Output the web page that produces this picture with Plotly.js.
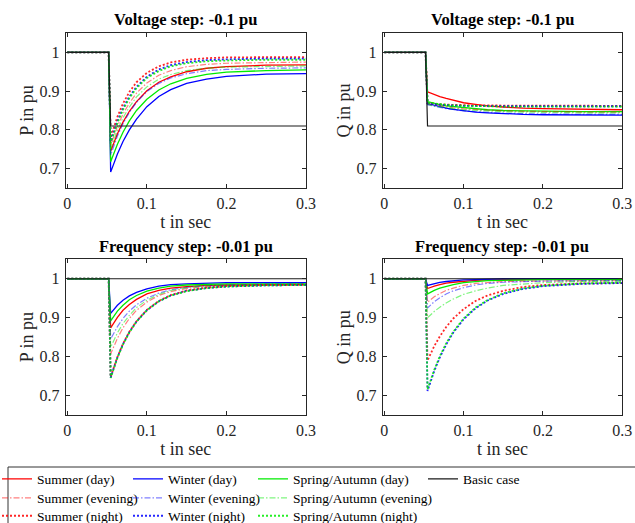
<!DOCTYPE html>
<html><head><meta charset="utf-8">
<script src="https://cdn.plot.ly/plotly-3.0.1.min.js"></script>
<style>html,body{margin:0;padding:0;background:#fff;} #chart{width:635px;height:523px;}</style>
</head><body><div id="chart"></div>
<script>
// time axis (s)
const t = [0, 0.052, 0.0545, 0.058, 0.063, 0.07, 0.078, 0.087, 0.1, 0.115, 0.13, 0.15, 0.175, 0.2, 0.25, 0.3];

// Voltage step, P
const vpSumDay = [1,1,.745,.765,.790,.820,.848,.873,.901,.923,.937,.950,.959,.963,.967,.968];
const vpWinDay = [1,1,.691,.711,.738,.770,.800,.828,.860,.886,.904,.920,.931,.938,.944,.945];
const vpSprDay = [1,1,.718,.738,.763,.794,.823,.850,.879,.903,.919,.933,.943,.949,.953,.955];
const vpSumEve = [1,1,.760,.782,.809,.841,.869,.895,.921,.941,.953,.963,.969,.972,.974,.975];
const vpWinEve = [1,1,.735,.756,.784,.816,.845,.871,.899,.920,.934,.945,.953,.956,.959,.960];
const vpSprEve = [1,1,.750,.772,.799,.831,.859,.885,.911,.931,.943,.953,.959,.962,.964,.965];
const vpSumNgt = [1,1,.780,.805,.834,.868,.898,.923,.947,.964,.974,.981,.985,.987,.988,.988];
const vpWinNgt = [1,1,.770,.794,.823,.856,.886,.911,.937,.956,.967,.975,.980,.982,.984,.984];
const vpSprNgt = [1,1,.765,.789,.818,.852,.882,.908,.934,.952,.964,.972,.977,.979,.981,.981];
const vpBasic  = [1,1,.81,.81,.81,.81,.81,.81,.81,.81,.81,.81,.81,.81,.81,.81];

// Voltage step, Q
const vqSumDay = [1,1,.898,.895,.891,.886,.881,.876,.870,.866,.862,.859,.856,.855,.853,.852];
const vqWinDay = [1,1,.868,.866,.863,.859,.856,.853,.849,.846,.844,.842,.840,.839,.838,.838];
const vqSprDay = [1,1,.873,.871,.869,.865,.862,.860,.857,.854,.852,.850,.849,.848,.847,.847];
const vqSumEve = [1,1,.868,.866,.864,.862,.859,.857,.854,.852,.850,.849,.848,.847,.846,.846];
const vqWinEve = [1,1,.865,.863,.861,.858,.855,.852,.849,.847,.845,.843,.842,.841,.840,.840];
const vqSprEve = [1,1,.866,.864,.862,.860,.857,.855,.852,.850,.848,.847,.846,.845,.844,.844];
const vqSumNgt = [1,1,.869,.868,.867,.866,.865,.864,.864,.863,.863,.862,.862,.862,.862,.862];
const vqWinNgt = [1,1,.868,.867,.866,.865,.864,.863,.862,.862,.861,.861,.861,.861,.861,.861];
const vqSprNgt = [1,1,.870,.869,.868,.866,.865,.863,.862,.861,.861,.860,.860,.860,.860,.860];
const vqBasic  = [1,1,.81,.81,.81,.81,.81,.81,.81,.81,.81,.81,.81,.81,.81,.81];

// Frequency step, P
const fpSumDay = [1,1,.874,.886,.901,.919,.934,.947,.961,.970,.976,.980,.983,.984,.985,.985];
const fpWinDay = [1,1,.911,.920,.932,.945,.956,.965,.974,.981,.985,.987,.989,.990,.990,.990];
const fpSprDay = [1,1,.892,.903,.917,.932,.946,.957,.968,.976,.981,.984,.986,.987,.987,.987];
const fpSumEve = [1,1,.807,.825,.847,.874,.898,.919,.940,.957,.967,.975,.980,.983,.984,.985];
const fpWinEve = [1,1,.845,.859,.877,.898,.917,.933,.950,.963,.972,.978,.982,.984,.986,.986];
const fpSprEve = [1,1,.824,.840,.861,.885,.906,.926,.945,.960,.970,.977,.982,.984,.985,.986];
const fpSumNgt = [1,1,.748,.771,.799,.833,.864,.891,.920,.943,.958,.970,.977,.981,.984,.985];
const fpWinNgt = [1,1,.746,.769,.798,.832,.863,.890,.919,.942,.957,.969,.976,.980,.983,.984];
const fpSprNgt = [1,1,.745,.768,.797,.831,.862,.890,.919,.942,.957,.968,.976,.980,.983,.984];
const fpBasic  = [1,1,1,1,1,1,1,1,1,1,1,1,1,1,1,1];

// Frequency step, Q
const fqSumDay = [1,1,.975,.978,.981,.985,.989,.991,.994,.996,.997,.998,.999,.999,.999,.999];
const fqWinDay = [1,1,.983,.985,.988,.991,.993,.995,.997,.998,.999,1,1,1,1,1];
const fqSprDay = [1,1,.961,.965,.970,.976,.981,.985,.990,.993,.995,.996,.997,.998,.998,.998];
const fqSumEve = [1,1,.940,.946,.954,.962,.970,.976,.983,.988,.990,.993,.994,.994,.995,.995];
const fqWinEve = [1,1,.925,.932,.941,.951,.961,.969,.977,.984,.988,.991,.993,.994,.995,.995];
const fqSprEve = [1,1,.900,.907,.916,.927,.938,.948,.960,.969,.976,.983,.987,.990,.993,.994];
const fqSumNgt = [1,1,.790,.806,.827,.852,.876,.898,.922,.943,.957,.969,.979,.984,.988,.989];
const fqWinNgt = [1,1,.712,.734,.763,.798,.831,.862,.896,.924,.944,.961,.974,.981,.987,.989];
const fqSprNgt = [1,1,.716,.738,.766,.801,.834,.864,.898,.926,.945,.963,.975,.982,.988,.990];
const fqBasic  = [1,1,1,1,1,1,1,1,1,1,1,1,1,1,1,1];

const seriesNames = ['Summer (day)','Winter (day)','Spring/Autumn (day)',
  'Summer (evening)','Winter (evening)','Spring/Autumn (evening)',
  'Summer (night)','Winter (night)','Spring/Autumn (night)','Basic case'];
const panelTitles = ['Voltage step: -0.1 pu','Voltage step: -0.1 pu','Frequency step: -0.01 pu','Frequency step: -0.01 pu'];
const yLabels = ['P in pu','Q in pu','P in pu','Q in pu'];
const xLabel = 't in sec';
const xTicks = [0, 0.1, 0.2, 0.3];
const xTickText = ['0','0.1','0.2','0.3'];
const yTicks = [0.7, 0.8, 0.9, 1];
const yTickText = ['0.7','0.8','0.9','1'];

const panelData = [
  [vpSumDay,vpWinDay,vpSprDay,vpSumEve,vpWinEve,vpSprEve,vpSumNgt,vpWinNgt,vpSprNgt,vpBasic],
  [vqSumDay,vqWinDay,vqSprDay,vqSumEve,vqWinEve,vqSprEve,vqSumNgt,vqWinNgt,vqSprNgt,vqBasic],
  [fpSumDay,fpWinDay,fpSprDay,fpSumEve,fpWinEve,fpSprEve,fpSumNgt,fpWinNgt,fpSprNgt,fpBasic],
  [fqSumDay,fqWinDay,fqSprDay,fqSumEve,fqWinEve,fqSprEve,fqSumNgt,fqWinNgt,fqSprNgt,fqBasic]
];

// styles
const W = 635, H = 523;
const baseCol = [[255,0,0],[0,0,255],[0,235,0]];
function lineStyle(i){
  if (i === 9) return {color:'#1a1a1a', width:1.2};
  const c = baseCol[i % 3];
  const kind = Math.floor(i / 3);
  if (kind === 0) return {color:`rgb(${c})`, width:1.3};
  if (kind === 1) return {color:`rgba(${c},0.5)`, width:1.2, dash:'6px,2px,1.5px,2px'};
  return {color:`rgba(${c},0.85)`, width:1.8, dash:'2px,2px'};
}
// legend positions (text start x, row center y) in pixels
const legPos = [[37,479],[168,479],[293,479],[37,498],[168,498],[293,498],[37,516],[168,516],[293,516],[463,479]];
const legIds = ['legend','legend2','legend3','legend4','legend5','legend6','legend7','legend8','legend9','legend10'];

const traces = [];
panelData.forEach((series, p) => {
  const ax = p === 0 ? '' : String(p + 1);
  series.forEach((vals, i) => {
    traces.push({
      type:'scatter', mode:'lines', x:t, y:vals, name:seriesNames[i],
      xaxis:'x'+ax, yaxis:'y'+ax, line:lineStyle(i),
      showlegend: p === 0, legend: legIds[i], hoverinfo:'skip'
    });
  });
});

const font = "'Liberation Serif', 'Times New Roman', serif";
const axCol = '#262626';
const xdom = [[65.7/W, 306/W],[382.7/W, 622.3/W]];
const ydom = [[1-188/H, 1-33/H],[1-415/H, 1-259.3/H]];

const layout = {
  width:W, height:H, margin:{l:0,r:0,t:0,b:0,pad:0,autoexpand:false}, paper_bgcolor:'#fff', plot_bgcolor:'#fff',
  font:{family:font, color:axCol, size:16}, showlegend:true, annotations:[], shapes:[]
};
for (let p = 0; p < 4; p++) {
  const ax = p === 0 ? '' : String(p + 1);
  const col = p % 2, row = Math.floor(p / 2);
  layout['xaxis'+ax] = {
    domain:xdom[col], range:[-0.002, 0.3], anchor:'y'+ax, tickvals:xTicks, ticktext:xTickText,
    ticks:'inside', ticklen:4, tickcolor:axCol, showline:true, linecolor:axCol, linewidth:1, mirror:'ticks',
    showgrid:false, zeroline:false, tickfont:{family:font, size:16, color:axCol}, ticklabelstandoff:1,
    title:{text:xLabel, font:{family:font, size:18, color:axCol}, standoff:4}
  };
  layout['yaxis'+ax] = {
    domain:ydom[row], range:[0.65, 1.05], anchor:'x'+ax, tickvals:yTicks, ticktext:yTickText,
    ticks:'inside', ticklen:4, tickcolor:axCol, showline:true, linecolor:axCol, linewidth:1, mirror:'ticks',
    showgrid:false, zeroline:false, tickfont:{family:font, size:16, color:axCol}, ticklabelstandoff:2,
    title:{text:yLabels[p], font:{family:font, size:18, color:axCol}, standoff:1}
  };
  layout.annotations.push({
    text:'<b>'+panelTitles[p]+'</b>', xref:'paper', yref:'paper',
    x:(xdom[col][0]+xdom[col][1])/2, y: row === 0 ? 1-20/H : 1-246.7/H,
    xanchor:'center', yanchor:'middle', showarrow:false, font:{family:font, size:16.5, color:'#000'}
  });
}
// legend frame
layout.shapes.push({type:'rect', xref:'paper', yref:'paper', x0:8/W, x1:1.05, y0:-0.05, y1:1-467/H,
  line:{color:'#333', width:1}, fillcolor:'rgba(0,0,0,0)'});
legIds.forEach((id, i) => {
  layout[id] = {x:(legPos[i][0]-40)/W, y:1-legPos[i][1]/H, xanchor:'left', yanchor:'middle',
    orientation:'v', bgcolor:'rgba(0,0,0,0)', borderwidth:0,
    font:{family:font, size:13.5, color:'#000'}};
});

Plotly.newPlot('chart', traces, layout, {staticPlot:true, displayModeBar:false});
</script></body></html>
